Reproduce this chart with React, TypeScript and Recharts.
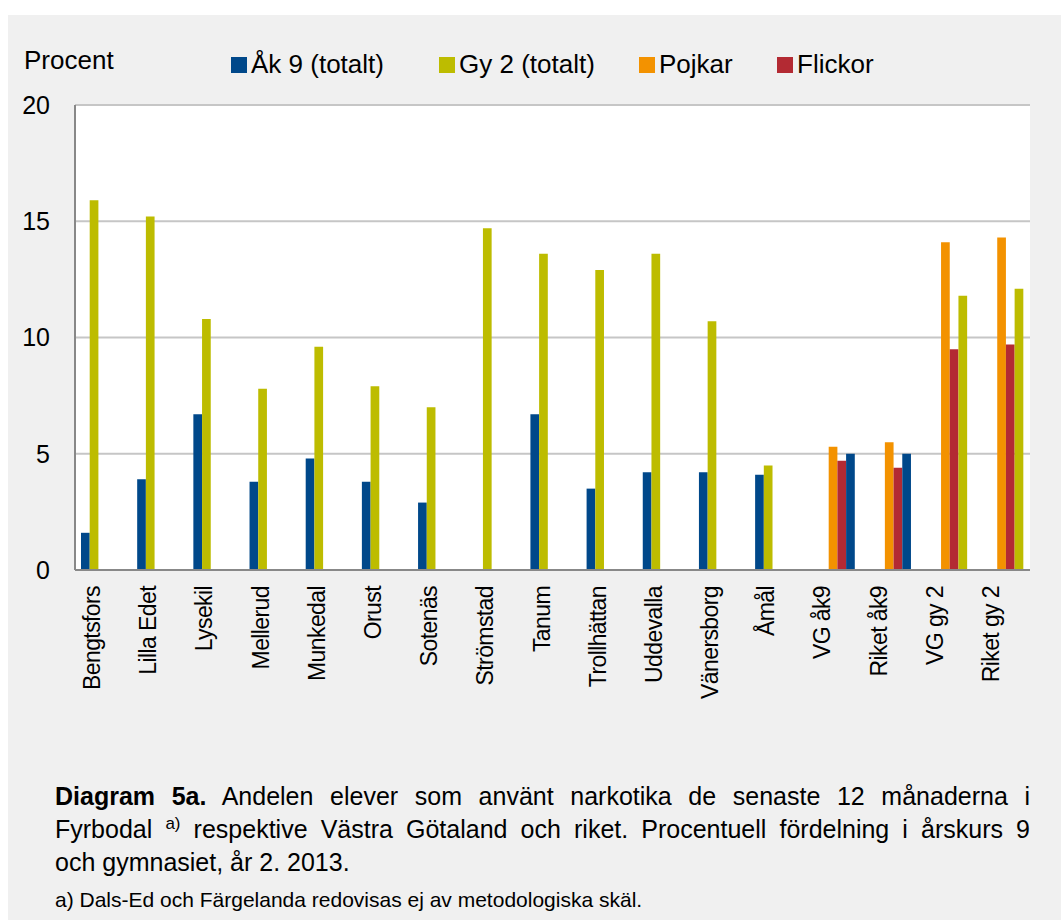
import React from 'react';
import { Bar, BarChart, CartesianGrid, Cell, Legend, Rectangle, XAxis, YAxis } from 'recharts';

// Categories along the x axis
const categories = [
  'Bengtsfors', 'Lilla Edet', 'Lysekil', 'Mellerud', 'Munkedal', 'Orust', 'Sotenäs',
  'Strömstad', 'Tanum', 'Trollhättan', 'Uddevalla', 'Vänersborg', 'Åmål',
  'VG åk9', 'Riket åk9', 'VG gy 2', 'Riket gy 2',
];

// Procent per category (null = no bar)
const ak9 = [1.6, 3.9, 6.7, 3.8, 4.8, 3.8, 2.9, null, 6.7, 3.5, 4.2, 4.2, 4.1, null, null, null, null];
const gy2 = [15.9, 15.2, 10.8, 7.8, 9.6, 7.9, 7.0, 14.7, 13.6, 12.9, 13.6, 10.7, 4.5, null, null, null, null];
const pojkar = [null, null, null, null, null, null, null, null, null, null, null, null, null, 5.3, 5.5, 14.1, 14.3];
const flickor = [null, null, null, null, null, null, null, null, null, null, null, null, null, 4.7, 4.4, 9.5, 9.7];
// totals for VG / Riket, drawn after the gender bars
const totalt = [null, null, null, null, null, null, null, null, null, null, null, null, null, 5.0, 5.0, 11.8, 12.1];
const totaltKind = ['', '', '', '', '', '', '', '', '', '', '', '', '', 'ak9', 'ak9', 'gy2', 'gy2'];

const yTicks = [0, 5, 10, 15, 20];

const COLORS = {
  ak9: '#00488a',
  gy2: '#bdbc00',
  pojkar: '#f39200',
  flickor: '#b32a33',
};

const legendItems = [
  { label: 'Åk 9 (totalt)', color: COLORS.ak9 },
  { label: 'Gy 2 (totalt)', color: COLORS.gy2 },
  { label: 'Pojkar', color: COLORS.pojkar },
  { label: 'Flickor', color: COLORS.flickor },
];

const FONT = "'Liberation Sans', Arial, sans-serif";

const chartData = categories.map((name, i) => ({
  name,
  ak9: ak9[i],
  gy2: gy2[i],
  pojkar: pojkar[i],
  flickor: flickor[i],
  totalt: totalt[i],
}));

const CategoryTick = ({ x, y, payload }: any) => (
  <g transform={`translate(${x - 11},${y + 16})`}>
    <text
      transform="rotate(-90)"
      textAnchor="end"
      dominantBaseline="central"
      fontFamily={FONT}
      fontSize={23}
      letterSpacing={-0.6}
      fill="#000"
    >
      {payload.value}
    </text>
  </g>
);

const renderLegend = () => {
  const lefts = [231, 439, 639, 777];
  return (
    <div style={{ position: 'relative', width: 1061, height: 90, fontFamily: FONT }}>
      <div style={{ position: 'absolute', left: 24, top: 47, fontSize: 26, lineHeight: '26px', color: '#000' }}>
        Procent
      </div>
      {legendItems.map((item, i) => (
        <div
          key={item.label}
          style={{ position: 'absolute', left: lefts[i], top: 51, display: 'flex', alignItems: 'center', height: 26 }}
        >
          <span style={{ display: 'inline-block', width: 16, height: 16, background: item.color, marginTop: 2 }} />
          <span style={{ fontSize: 26, lineHeight: '26px', marginLeft: 4, color: '#000', whiteSpace: 'nowrap' }}>
            {item.label}
          </span>
        </div>
      ))}
    </div>
  );
};

// the gy 2 totals are drawn a bit wider, as in the original
const TotalShape = (props: any) => {
  const wide = totaltKind[props.index] === 'gy2';
  return <Rectangle {...props} width={wide ? props.width * 1.5 : props.width} />;
};

const App: React.FC = () => {
  return (
    <div style={{ position: 'absolute', left: 0, top: 0, width: 1061, height: 920, background: '#fff', overflow: 'hidden' }}>
      <div style={{ position: 'absolute', left: 8, top: 15, width: 1053, height: 905, background: '#f0f0f0' }} />
      <div style={{ position: 'absolute', left: 0, top: 0 }}>
        <BarChart
          width={1061}
          height={720}
          data={chartData}
          margin={{ top: 105, right: 31, left: 0, bottom: 0 }}
          barSize={8.7}
          barGap={0}
        >
          <CartesianGrid vertical={false} fill="#ffffff" stroke="#c6c6c6" strokeWidth={2} />
          <XAxis
            dataKey="name"
            interval={0}
            height={150}
            tickLine={false}
            tickSize={0}
            tickMargin={0}
            axisLine={{ stroke: '#888888', strokeWidth: 2 }}
            tick={<CategoryTick />}
          />
          <XAxis
            xAxisId="top"
            dataKey="name"
            orientation="top"
            height={0}
            tick={false}
            tickLine={false}
            axisLine={{ stroke: '#999999', strokeWidth: 2 }}
          />
          <YAxis
            domain={[0, 20]}
            ticks={yTicks}
            width={75}
            tickLine={false}
            tickSize={0}
            tickMargin={25}
            axisLine={{ stroke: '#888888', strokeWidth: 2 }}
            tick={{ fontFamily: FONT, fontSize: 25, fill: '#000' }}
          />
          <YAxis
            yAxisId="right"
            orientation="right"
            domain={[0, 20]}
            width={0}
            tick={false}
            tickLine={false}
            axisLine={{ stroke: '#999999', strokeWidth: 2 }}
          />
          <Legend verticalAlign="middle" layout="horizontal" content={renderLegend} wrapperStyle={{ left: 0, top: 0, width: 1061, height: 90 }} />
          <Bar dataKey="ak9" name="Åk 9 (totalt)" fill={COLORS.ak9} isAnimationActive={false} />
          <Bar dataKey="gy2" name="Gy 2 (totalt)" fill={COLORS.gy2} isAnimationActive={false} />
          <Bar dataKey="pojkar" name="Pojkar" fill={COLORS.pojkar} isAnimationActive={false} />
          <Bar dataKey="flickor" name="Flickor" fill={COLORS.flickor} isAnimationActive={false} />
          <Bar dataKey="totalt" name="Totalt" isAnimationActive={false} shape={<TotalShape />}>
            {chartData.map((d, i) => (
              <Cell key={d.name} fill={totaltKind[i] === 'gy2' ? COLORS.gy2 : COLORS.ak9} />
            ))}
          </Bar>
        </BarChart>
      </div>
      <div style={{ position: 'absolute', left: 55, top: 780, width: 975, fontFamily: FONT, fontSize: 25, lineHeight: '33px', color: '#000' }}>
        <div style={{ textAlign: 'justify', textAlignLast: 'justify' }}>
          <b>Diagram 5a.</b> Andelen elever som använt narkotika de senaste 12 månaderna i
        </div>
        <div style={{ textAlign: 'justify', textAlignLast: 'justify' }}>
          Fyrbodal <sup style={{ fontSize: 17, lineHeight: 0, verticalAlign: '0.55em' }}>a)</sup> respektive Västra Götaland och riket. Procentuell fördelning i årskurs 9
        </div>
        <div>och gymnasiet, år 2. 2013.</div>
      </div>
      <div style={{ position: 'absolute', left: 55, top: 888, fontFamily: FONT, fontSize: 21, lineHeight: '24px', color: '#000' }}>
        a) Dals-Ed och Färgelanda redovisas ej av metodologiska skäl.
      </div>
    </div>
  );
};

export default App;
